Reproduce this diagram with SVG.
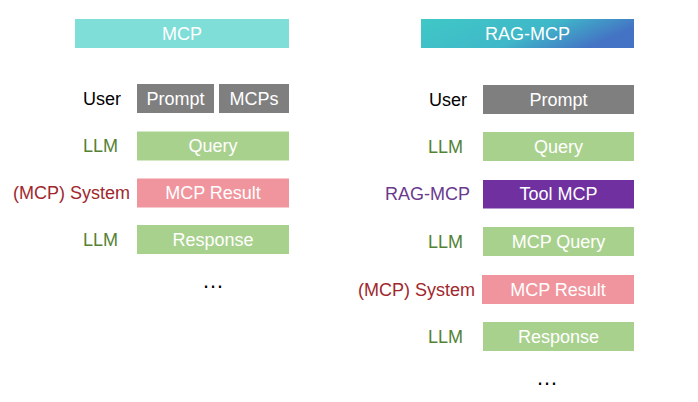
<svg xmlns="http://www.w3.org/2000/svg" width="698" height="402" viewBox="0 0 698 402">
<defs>
<linearGradient id="rg" x1="0" y1="0" x2="1" y2="0.3">
<stop offset="0" stop-color="#40C8C6"/>
<stop offset="0.6" stop-color="#3FB8C9"/>
<stop offset="1" stop-color="#4472C4"/>
</linearGradient>
<style>
text{font-family:"Liberation Sans",Arial,sans-serif;font-size:18px}
.bt{fill:#fff;text-anchor:middle}
.lb{text-anchor:end}
.u{fill:#000}
.l{fill:#548235}
.s{fill:#A0282D}
.r{fill:#6A3A8E}
.gray{fill:#7F7F7F}
.green{fill:#A9D18E}
.pink{fill:#F0959D}
.purple{fill:#7030A0}
.dots{fill:#000;text-anchor:middle;font-size:22px}
</style>
</defs>
<rect width="698" height="402" fill="#fff"/>
<g id="mcp-header"><rect x="75" y="19" width="214" height="29" fill="#80DED8"/><text class="bt" x="182" y="40">MCP</text></g>
<g id="l-user"><text class="lb u" x="121" y="105">User</text></g>
<g id="l-prompt"><rect class="gray" x="137" y="84" width="77" height="29"/><text class="bt" x="175.5" y="105">Prompt</text></g>
<g id="l-mcps"><rect class="gray" x="219" y="84" width="70" height="29"/><text class="bt" x="254" y="105">MCPs</text></g>
<g id="l-llm1"><text class="lb l" x="118" y="152">LLM</text></g>
<g id="l-query"><rect class="green" x="137" y="131.5" width="152" height="29"/><text class="bt" x="213" y="152">Query</text></g>
<g id="l-sys"><text class="lb s" x="130" y="199">(MCP) System</text></g>
<g id="l-result"><rect class="pink" x="137" y="178.5" width="152" height="29"/><text class="bt" x="213" y="199">MCP Result</text></g>
<g id="l-llm2"><text class="lb l" x="118" y="246">LLM</text></g>
<g id="l-response"><rect class="green" x="137" y="225" width="152" height="29"/><text class="bt" x="213" y="246">Response</text></g>
<g id="l-dots"><text class="dots" x="213" y="288">…</text></g>

<g id="rag-header"><rect x="421" y="19" width="213" height="29" fill="url(#rg)"/><text class="bt" x="527.5" y="40">RAG-MCP</text></g>
<g id="r-user"><text class="lb u" x="467" y="106">User</text></g>
<g id="r-prompt"><rect class="gray" x="483" y="85" width="151" height="29"/><text class="bt" x="558.5" y="106">Prompt</text></g>
<g id="r-llm1"><text class="lb l" x="463" y="153">LLM</text></g>
<g id="r-query"><rect class="green" x="483" y="132" width="151" height="29"/><text class="bt" x="558.5" y="153">Query</text></g>
<g id="r-rag"><text class="lb r" x="470" y="200">RAG-MCP</text></g>
<g id="r-tool"><rect class="purple" x="483" y="180" width="151" height="28.5"/><text class="bt" x="558.5" y="200">Tool MCP</text></g>
<g id="r-llm2"><text class="lb l" x="463" y="248">LLM</text></g>
<g id="r-mcpquery"><rect class="green" x="483" y="227" width="151" height="29"/><text class="bt" x="558.5" y="248">MCP Query</text></g>
<g id="r-sys"><text class="lb s" x="475" y="296">(MCP) System</text></g>
<g id="r-result"><rect class="pink" x="482" y="275" width="152" height="29"/><text class="bt" x="558" y="296">MCP Result</text></g>
<g id="r-llm3"><text class="lb l" x="463" y="343">LLM</text></g>
<g id="r-response"><rect class="green" x="483" y="322" width="151" height="29"/><text class="bt" x="558.5" y="343">Response</text></g>
<g id="r-dots"><text class="dots" x="547" y="385">…</text></g>
<g id="connectors"/>
</svg>
